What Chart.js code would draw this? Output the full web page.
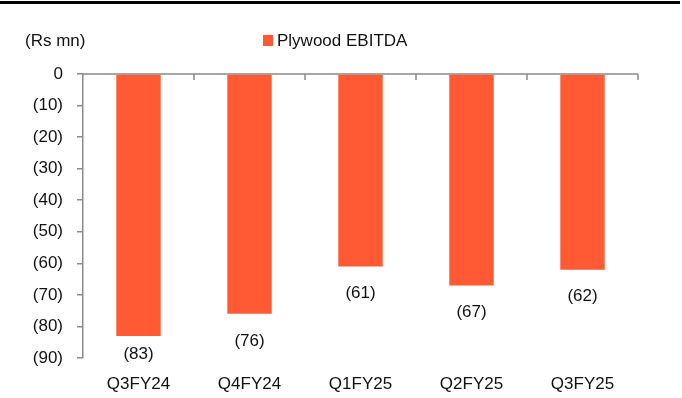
<!DOCTYPE html>
<html>
<head>
<meta charset="utf-8">
<script src="https://cdn.jsdelivr.net/npm/chart.js@4/dist/chart.umd.min.js"></script>
<style>
  html, body { margin: 0; padding: 0; background: #fff; }
  #wrap { width: 682px; height: 398px; position: relative; }
</style>
</head>
<body>
<div id="wrap"><canvas id="ebitda-chart"></canvas></div>
<script>
// Chart data
const quarters = ['Q3FY24', 'Q4FY24', 'Q1FY25', 'Q2FY25', 'Q3FY25'];
const plywoodEbitda = [-83, -76, -61, -67, -62];
const yTicks = [0, -10, -20, -30, -40, -50, -60, -70, -80, -90];
const seriesName = 'Plywood EBITDA';

const barColor = '#FF5A33';
const axisColor = '#8a8a8a';
const fontFamily = '"Liberation Sans", Arial, sans-serif';

// format negatives the accounting way: (83)
function fmt(v) {
    return v < 0 ? '(' + Math.abs(v) + ')' : String(v);
}

// top rule, unit caption, legend, zero line with category ticks, bar labels
const decorations = {
    id: 'decorations',
    afterDraw(chart) {
        const ctx = chart.ctx;
        const area = chart.chartArea;
        const x = chart.scales.x;
        const y = chart.scales.y;
        const y0 = y.getPixelForValue(0);

        ctx.save();
        ctx.fillStyle = '#000';
        ctx.fillRect(0, 1, 680, 3);

        ctx.font = '17px ' + fontFamily;
        ctx.fillStyle = '#111';
        ctx.textAlign = 'left';
        ctx.textBaseline = 'middle';
        ctx.fillText('(Rs mn)', 25, 41);

        // legend
        ctx.fillStyle = barColor;
        ctx.fillRect(263, 35, 10, 11);
        ctx.fillStyle = '#111';
        ctx.fillText(seriesName, 277, 41);

        // zero line + category boundary ticks
        ctx.strokeStyle = axisColor;
        ctx.lineWidth = 1.5;
        ctx.beginPath();
        ctx.moveTo(area.left, y0);
        ctx.lineTo(area.right, y0);
        for (let i = 0; i < quarters.length; i++) {
            const bx = i < quarters.length - 1
                ? (x.getPixelForValue(i) + x.getPixelForValue(i + 1)) / 2
                : area.right;
            ctx.moveTo(bx, y0);
            ctx.lineTo(bx, y0 + 6);
        }
        ctx.stroke();

        // data labels under each bar
        const meta = chart.getDatasetMeta(0);
        ctx.fillStyle = '#111';
        ctx.textAlign = 'center';
        meta.data.forEach((bar, i) => {
            const ly = Math.min(bar.y + 27, area.bottom - 4);
            ctx.fillText(fmt(plywoodEbitda[i]), bar.x, ly);
        });
        ctx.restore();
    }
};

const ctx = document.getElementById('ebitda-chart').getContext('2d');

new Chart(ctx, {
    type: 'bar',
    data: {
        labels: quarters,
        datasets: [{
            label: seriesName,
            data: plywoodEbitda,
            backgroundColor: barColor,
            borderWidth: 0,
            barPercentage: 0.4,
            categoryPercentage: 1.0
        }]
    },
    options: {
        responsive: true,
        maintainAspectRatio: false,
        animation: false,
        devicePixelRatio: 1,
        layout: {
            padding: { top: 74, right: 44, bottom: 0, left: 0 }
        },
        plugins: {
            legend: { display: false },
            tooltip: { enabled: false }
        },
        scales: {
            x: {
                position: 'bottom',
                clip: false,
                grid: { display: false },
                border: { display: false },
                afterFit(scale) {
                    scale.height = 40;
                },
                ticks: {
                    color: '#111',
                    padding: 8,
                    maxRotation: 0,
                    font: { family: fontFamily, size: 17 }
                }
            },
            y: {
                min: -90,
                max: 0,
                afterBuildTicks(scale) {
                    scale.ticks = yTicks.map(v => ({ value: v }));
                },
                afterFit(scale) {
                    scale.width = 83;
                },
                grid: {
                    drawOnChartArea: false,
                    drawTicks: true,
                    tickLength: 6,
                    color: axisColor,
                    lineWidth: 1.5
                },
                border: { display: true, color: axisColor, width: 1.5 },
                ticks: {
                    color: '#111',
                    padding: 14,
                    font: { family: fontFamily, size: 17 },
                    callback: v => fmt(v)
                }
            }
        }
    },
    plugins: [decorations]
});
</script>
</body>
</html>
